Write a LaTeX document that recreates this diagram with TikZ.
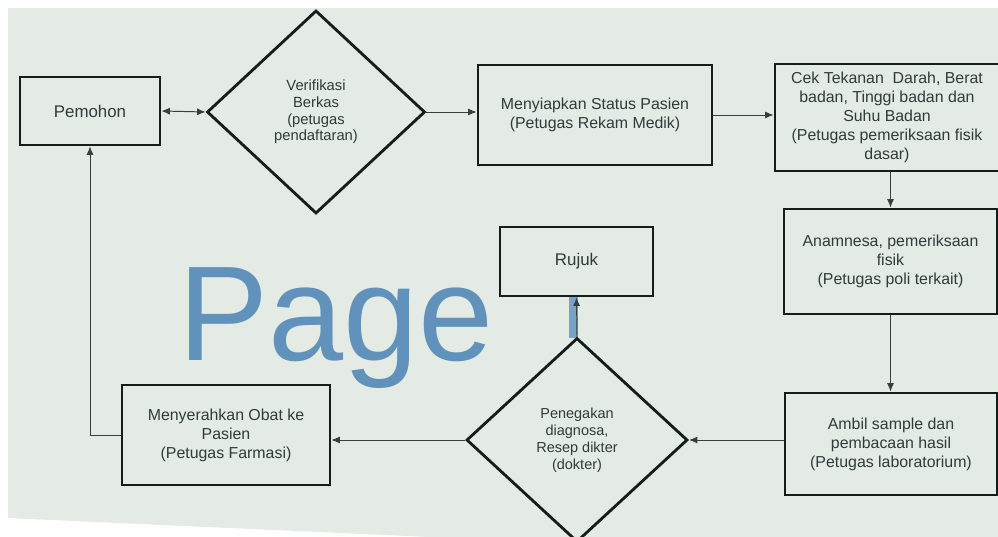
\documentclass[tikz,border=0pt]{standalone}
\usepackage{fontspec}
\setmainfont{Liberation Sans}
\usetikzlibrary{shapes.geometric,arrows.meta}
\definecolor{bgc}{HTML}{E4EAE4}
\definecolor{inkc}{HTML}{141C1C}
\definecolor{txtc}{HTML}{2E3C3C}
\definecolor{wmc}{HTML}{6192BB}
\tikzset{
  boxnode/.style={draw=inkc, line width=2pt, rectangle, align=center, text=txtc,
    font=\fontsize{11.3pt}{13.5pt}\selectfont, inner sep=2pt},
  decnode/.style={draw=inkc, line width=2pt, diamond, align=center, text=txtc,
    font=\fontsize{10.3pt}{12pt}\selectfont, inner sep=0pt},
  conn/.style={draw=inkc!85, line width=0.7pt, -{Latex[length=6pt,width=5pt]}},
}
\begin{document}
\begin{tikzpicture}[x=0.025cm, y=-0.025cm]
\useasboundingbox (0,0) rectangle (998,537);
\fill[white] (0,0) rectangle (998,537);
\fill[bgc] (8,8) -- (998,8) -- (998,537) -- (430,537) -- (8,518) -- cycle;
% watermark
\node[anchor=base west, inner sep=0pt, text=wmc, font=\fontsize{96pt}{96pt}\selectfont] (wm) at (178,360) {Page};
\fill[wmc!85] (569,296) rectangle (578,338);
% nodes
\node[boxnode, minimum width=3.5cm, minimum height=1.7cm, font=\fontsize{12pt}{14pt}\selectfont] (pemohon) at (90,111) {Pemohon};
\node[decnode, minimum width=5.45cm, minimum height=5.075cm, font=\fontsize{10.5pt}{11.8pt}\selectfont] (verif) at (316,112) {Verifikasi\\Berkas\\(petugas\\pendaftaran)};
\node[boxnode, minimum width=5.85cm, minimum height=2.5cm] (siap) at (595,115) {Menyiapkan Status Pasien\\(Petugas Rekam Medik)};
\node[boxnode, minimum width=5.6cm, minimum height=2.675cm] (cek) at (887,117.5) {Cek Tekanan\ \ Darah, Berat\\badan, Tinggi badan dan\\Suhu Badan\\(Petugas pemeriksaan fisik\\dasar)};
\node[boxnode, minimum width=5.325cm, minimum height=2.625cm] (anam) at (890.5,261.5) {Anamnesa, pemeriksaan\\fisik\\(Petugas poli terkait)};
\node[boxnode, minimum width=5.3cm, minimum height=2.55cm] (ambil) at (891,444) {Ambil sample dan\\pembacaan hasil\\(Petugas laboratorium)};
\node[decnode, minimum width=5.525cm, minimum height=5.1cm] (diag) at (577,440) {Penegakan\\diagnosa,\\Resep dikter\\(dokter)};
\node[boxnode, minimum width=3.825cm, minimum height=1.725cm, font=\fontsize{12pt}{14pt}\selectfont] (rujuk) at (576.5,261.5) {Rujuk};
\node[boxnode, minimum width=5.2cm, minimum height=2.5cm] (obat) at (226,435) {Menyerahkan Obat ke\\Pasien\\(Petugas Farmasi)};
% connectors
\draw[conn, {Latex[length=6pt,width=5pt]}-{Latex[length=6pt,width=5pt]}] (pemohon.east) -- (verif.west);
\draw[conn] (verif.east) -- (siap.west |- verif.east);
\draw[conn] (siap.east) -- (siap.east -| cek.west);
\draw[conn] (cek.south -| anam.north) -- (anam.north);
\draw[conn] (anam.south) -- (anam.south |- ambil.north);
\draw[conn] (ambil.west |- diag.east) -- (diag.east);
\draw[conn] (diag.north) -- (rujuk.south);
\draw[conn] (diag.west) -- (obat.east |- diag.west);
\draw[conn] (obat.west) -| (pemohon.south);
\end{tikzpicture}
\end{document}
